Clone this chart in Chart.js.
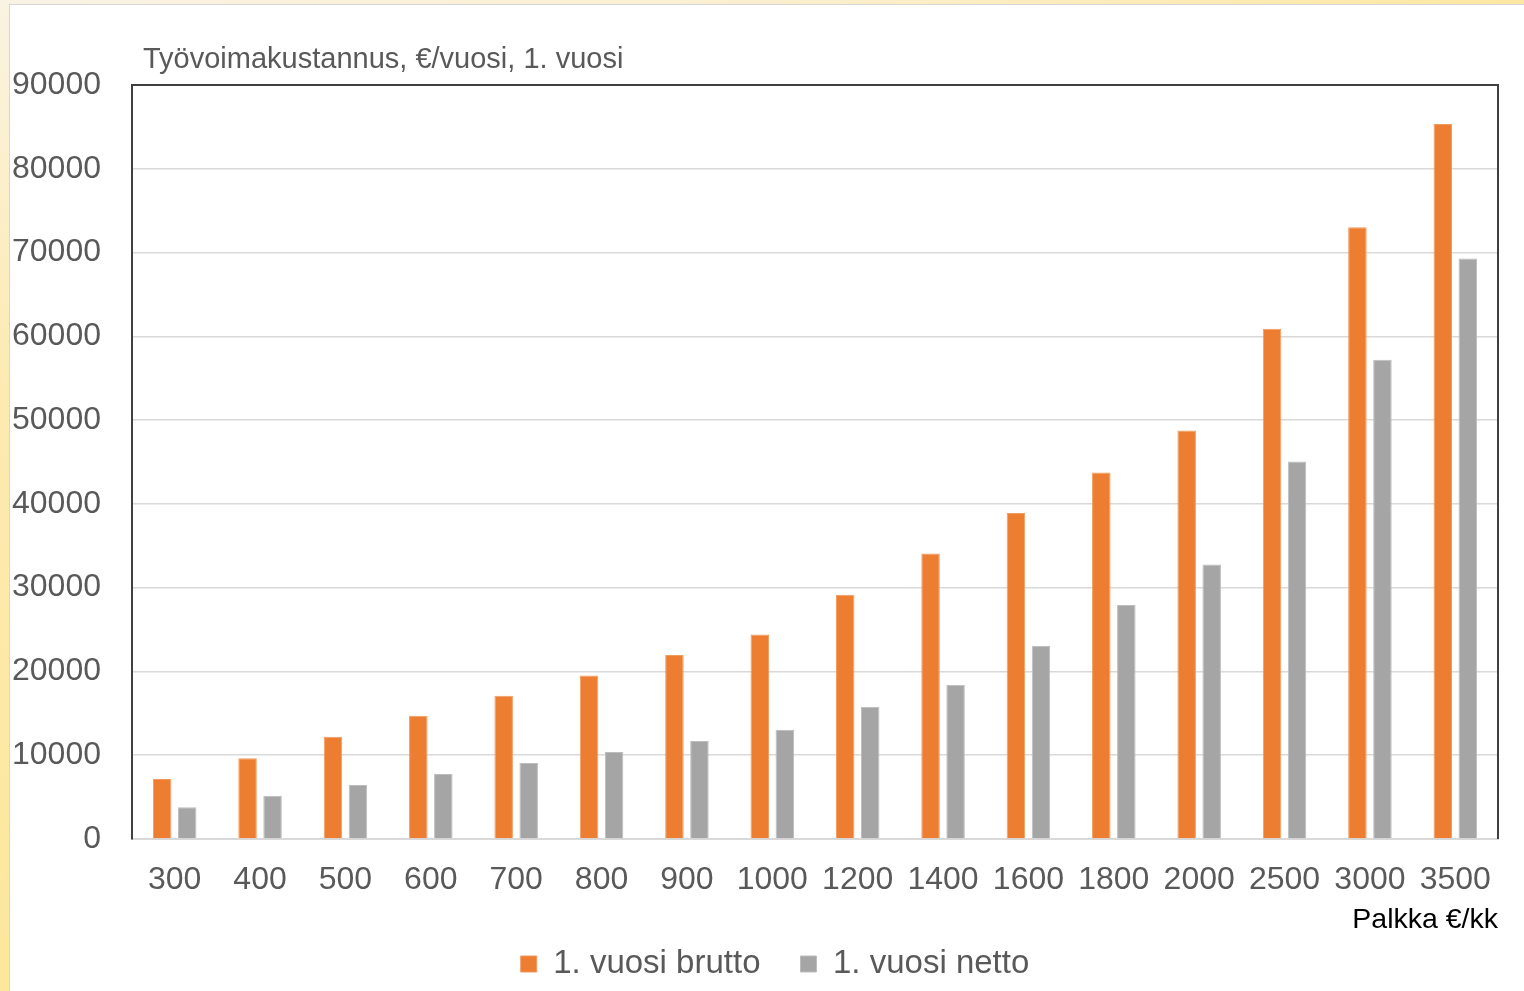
<!DOCTYPE html>
<html>
<head>
<meta charset="utf-8">
<script src="https://cdn.jsdelivr.net/npm/chart.js@4.4.1/dist/chart.umd.min.js"></script>
<style>
  html, body { margin: 0; padding: 0; }
  body {
    width: 1524px; height: 991px; overflow: hidden; position: relative;
    background: linear-gradient(to bottom, #faf3e2 0%, #fdeab0 40%, #fde79c 100%);
  }
  #topstrip { position: absolute; left: 0; top: 0; width: 1524px; height: 5px;
    background: linear-gradient(to right, #faf3e4 0%, #fbefcf 50%, #fde7a2 100%); }
  #panel { position: absolute; left: 9px; top: 4px; right: 0; bottom: 0; background: #fff;
    border-left: 1px solid #d6d6d6; border-top: 1px solid #d6d6d6; }
  #c { position: absolute; left: 10px; top: 6px; }
</style>
</head>
<body>
<div id="topstrip"></div>
<div id="panel"></div>
<canvas id="c" width="1514" height="985"></canvas>
<script>
const categories = ["300","400","500","600","700","800","900","1000","1200","1400","1600","1800","2000","2500","3000","3500"];
const brutto = [7150, 9650, 12200, 14700, 17100, 19530, 21960, 24400, 29150, 34070, 38920, 43750, 48770, 60920, 73030, 85330];
const netto  = [3790, 5150, 6450, 7760, 9080, 10390, 11690, 13050, 15790, 18420, 23080, 27930, 32760, 45050, 57210, 69280];
const seriesNames = ["1. vuosi brutto", "1. vuosi netto"];
const chartTitle = "Työvoimakustannus, €/vuosi, 1. vuosi";
const xAxisTitle = "Palkka €/kk";
const yMin = 0, yMax = 90000, yStep = 10000;

const FONT = "'Liberation Sans', Arial, sans-serif";
const TXT = '#595959';

const framePlugin = {
  id: 'frame',
  afterLayout(chart) {
    // let the y tick labels extend to the left canvas edge without being clipped
    chart.scales.y.left = 0;
  },
  afterDraw(chart) {
    const {ctx, chartArea: a} = chart;
    ctx.save();
    ctx.strokeStyle = '#404040';
    ctx.lineWidth = 2;
    ctx.beginPath();
    ctx.moveTo(a.left, a.bottom);
    ctx.lineTo(a.left, a.top);
    ctx.lineTo(a.right, a.top);
    ctx.lineTo(a.right, a.bottom);
    ctx.stroke();
    ctx.fillStyle = TXT;
    ctx.font = "29px " + FONT;
    ctx.textAlign = 'left';
    ctx.textBaseline = 'middle';
    ctx.fillText(chartTitle, a.left + 11, a.top - 25);
    ctx.restore();
  }
};

new Chart(document.getElementById('c'), {
  type: 'bar',
  data: {
    labels: categories,
    datasets: [
      { label: seriesNames[0], data: brutto, backgroundColor: '#ED7D31', borderColor: '#F29A5E', borderWidth: 1,
        categoryPercentage: 0.586, barPercentage: 0.74 },
      { label: seriesNames[1], data: netto, backgroundColor: '#A5A5A5', borderColor: '#BDBDBD', borderWidth: 1,
        categoryPercentage: 0.586, barPercentage: 0.74 }
    ]
  },
  options: {
    responsive: false,
    animation: false,
    layout: { padding: { top: 79, right: 26, bottom: 0.5, left: 42 } },
    plugins: {
      tooltip: { enabled: false },
      title: { display: false },
      legend: {
        position: 'bottom',
        labels: { boxWidth: 16, boxHeight: 16, padding: 40, color: TXT, font: { family: FONT, size: 33 } }
      }
    },
    scales: {
      x: {
        afterFit(s) { s.height = 68.5; },
        grid: { display: false, drawTicks: false },
        border: { display: true, color: '#d9d9d9', width: 2 },
        ticks: { color: TXT, font: { family: FONT, size: 32 }, padding: 22, maxRotation: 0, autoSkip: false },
        title: { display: true, text: xAxisTitle, align: 'end', color: '#000', font: { family: FONT, size: 28.5 },
                 padding: { top: 0, bottom: -30 } }
      },
      y: {
        min: yMin, max: yMax,
        afterFit(s) { s.width = 80; },
        grid: { color: '#d9d9d9', lineWidth: 1.5, drawTicks: false },
        border: { display: true, color: '#404040', width: 2 },
        ticks: { stepSize: yStep, color: TXT, font: { family: FONT, size: 32 }, padding: 31,
                 callback: (v) => String(v) }
      }
    }
  },
  plugins: [framePlugin]
});
</script>
</body>
</html>
